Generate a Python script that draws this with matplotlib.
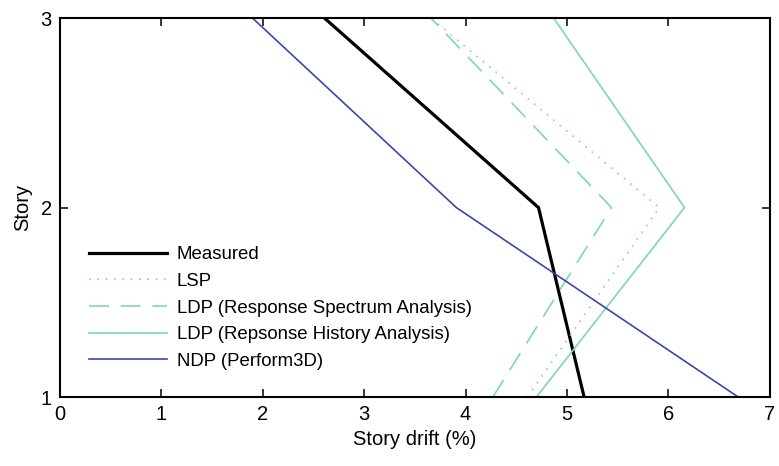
import matplotlib.pyplot as plt

plt.rcParams['font.family'] = ['Liberation Sans', 'DejaVu Sans']

stories = [1, 2, 3]
measured = [5.17, 4.72, 2.61]
lsp = [4.61, 5.91, 3.66]
ldp_rsa = [4.27, 5.44, 3.66]
ldp_rha = [4.70, 6.16, 4.87]
ndp = [6.69, 3.91, 1.90]

TEAL = '#80d4bd'
BLUE = '#3a48a3'

fig = plt.figure(figsize=(7.79, 4.66), dpi=100)
ax = fig.add_axes([0.077, 0.148, 0.911, 0.813])

ax.plot(measured, stories, color='black', lw=2.3, label='Measured')
ax.plot(lsp, stories, color=TEAL, lw=1.2, ls=(0, (1, 4)), label='LSP')
ax.plot(ldp_rsa, stories, color=TEAL, lw=1.2, ls=(0, (12, 7)),
        label='LDP (Response Spectrum Analysis)')
ax.plot(ldp_rha, stories, color=TEAL, lw=1.2,
        label='LDP (Repsonse History Analysis)')
ax.plot(ndp, stories, color=BLUE, lw=1.2, label='NDP (Perform3D)')

ax.set_xlim(0, 7)
ax.set_ylim(1, 3)
ax.set_xticks(range(8))
ax.set_yticks([1, 2, 3])
ax.tick_params(direction='in', length=5.5, width=1.1, labelsize=14.5,
               top=True, right=True, pad=6)
for s in ax.spines.values():
    s.set_linewidth(1.5)

ax.set_xlabel('Story drift (%)', fontsize=14.5, labelpad=4)
ax.set_ylabel('Story', fontsize=14.5, labelpad=6)

ax.legend(loc='upper left', bbox_to_anchor=(0.031, 0.418), frameon=False,
          fontsize=13.4, handlelength=4.15, handletextpad=0.55,
          labelspacing=0.52, borderaxespad=0)

fig.savefig('out.png', dpi=100)
